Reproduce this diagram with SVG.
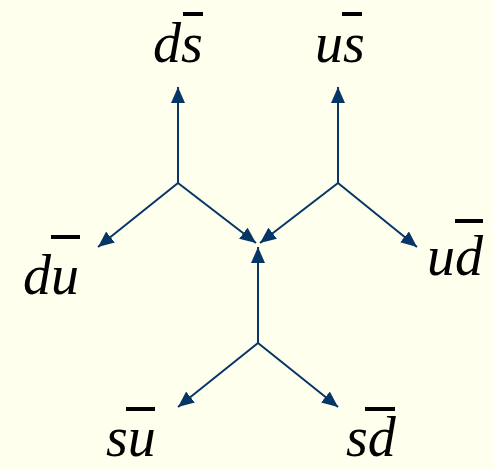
<svg xmlns="http://www.w3.org/2000/svg" width="493" height="469" viewBox="0 0 493 469">
<defs>
<marker id="ah" viewBox="0 0 16 14" refX="16" refY="7" markerWidth="16" markerHeight="14" markerUnits="userSpaceOnUse" orient="auto">
<path d="M0,0 L16,7 L0,14 Z" fill="#063666"/>
</marker>
<style>
.ln{stroke:#063666;stroke-width:2;fill:none;marker-end:url(#ah)}
.lb{font-family:"Liberation Serif","Times New Roman",serif;font-style:italic;font-size:56px;fill:#000}
.bar{fill:#000}
</style>
</defs>
<rect width="493" height="469" fill="#FFFFEE"/>
<g id="connectors">
<line class="ln" x1="178" y1="183" x2="178" y2="87"/>
<line class="ln" x1="338" y1="183" x2="338" y2="87"/>
<line class="ln" x1="178" y1="183" x2="98" y2="247"/>
<line class="ln" x1="178" y1="183" x2="256" y2="243"/>
<line class="ln" x1="338" y1="183" x2="417" y2="247"/>
<line class="ln" x1="338" y1="183" x2="260" y2="243"/>
<line class="ln" x1="258" y1="343" x2="258" y2="247"/>
<line class="ln" x1="258" y1="343" x2="178" y2="407"/>
<line class="ln" x1="258" y1="343" x2="338" y2="407"/>
</g>
<g id="node-ds">
<text class="lb" x="153" y="62">ds</text>
<rect class="bar" x="183" y="12" width="20" height="4"/>
</g>
<g id="node-us">
<text class="lb" x="315" y="62">us</text>
<rect class="bar" x="342" y="12" width="20" height="4"/>
</g>
<g id="node-du">
<text class="lb" x="23" y="294">du</text>
<rect class="bar" x="51" y="235" width="29" height="4"/>
</g>
<g id="node-ud">
<text class="lb" x="427" y="275">ud</text>
<rect class="bar" x="455" y="219" width="28" height="4"/>
</g>
<g id="node-su">
<text class="lb" x="106" y="456">su</text>
<rect class="bar" x="126" y="407" width="29" height="4"/>
</g>
<g id="node-sd">
<text class="lb" x="346" y="456">sd</text>
<rect class="bar" x="365" y="407" width="30" height="4"/>
</g>
</svg>
